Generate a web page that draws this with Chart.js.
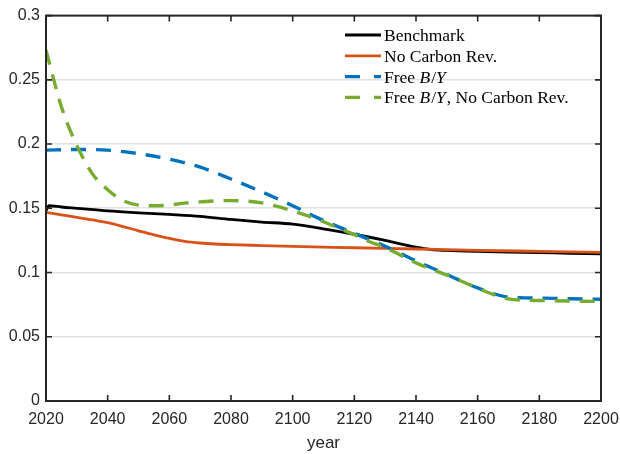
<!DOCTYPE html>
<html>
<head>
<meta charset="utf-8">
<script src="https://cdn.jsdelivr.net/npm/chart.js@4.4.1/dist/chart.umd.min.js"></script>
<style>
  html, body { margin: 0; padding: 0; background: #fff; }
  #wrap { width: 620px; height: 454px; }
</style>
</head>
<body>
<div id="wrap"><canvas id="chart" width="620" height="454"></canvas></div>
<script>
// values
var benchYears = [2020, 2021, 2025, 2030, 2040, 2050, 2060, 2070, 2080, 2090, 2100, 2110, 2120, 2130, 2140, 2145, 2150, 2160, 2170, 2180, 2190, 2200];
var benchVals  = [0.148, 0.152, 0.151, 0.150, 0.148, 0.1465, 0.1452, 0.1437, 0.1413, 0.1393, 0.1377, 0.134, 0.1298, 0.125, 0.1197, 0.1178, 0.1172, 0.1165, 0.116, 0.1155, 0.115, 0.1145];

var noRevYears = [2020, 2025, 2030, 2035, 2040, 2045, 2050, 2055, 2060, 2065, 2070, 2075, 2080, 2090, 2100, 2120, 2140, 2160, 2180, 2200];
var noRevVals  = [0.1468, 0.1449, 0.143, 0.1409, 0.1388, 0.1358, 0.1325, 0.1293, 0.1265, 0.1243, 0.123, 0.1222, 0.1217, 0.121, 0.1203, 0.1193, 0.1183, 0.1173, 0.1165, 0.1157];

var freeYears = [2020, 2030, 2040, 2050, 2060, 2070, 2080, 2090, 2100, 2110, 2120, 2130, 2140, 2150, 2160, 2170, 2175, 2180, 2190, 2200];
var freeVals  = [0.1953, 0.1958, 0.1953, 0.1925, 0.1882, 0.182, 0.1728, 0.1628, 0.152, 0.1405, 0.1305, 0.1205, 0.109, 0.0985, 0.088, 0.0808, 0.0803, 0.0801, 0.0796, 0.0792];

var freeNoRevYears = [2020, 2025, 2030, 2035, 2040, 2045, 2050, 2055, 2060, 2065, 2070, 2075, 2080, 2085, 2090, 2095, 2100, 2105, 2110, 2115, 2120, 2125, 2130, 2135, 2140, 2145, 2150, 2155, 2160, 2165, 2170, 2175, 2180, 2190, 2200];
var freeNoRevVals  = [0.273, 0.229, 0.199, 0.177, 0.1645, 0.156, 0.1525, 0.152, 0.1525, 0.154, 0.155, 0.1558, 0.156, 0.1556, 0.1542, 0.1515, 0.148, 0.144, 0.1395, 0.1345, 0.1295, 0.124, 0.1195, 0.1135, 0.1075, 0.1025, 0.098, 0.093, 0.0878, 0.083, 0.0795, 0.0785, 0.0782, 0.0778, 0.0775];

var xTicks = [2020, 2040, 2060, 2080, 2100, 2120, 2140, 2160, 2180, 2200];
var yTicks = [0, 0.05, 0.1, 0.15, 0.2, 0.25, 0.3];

var names = ['Benchmark', 'No Carbon Rev.', 'Free B/Y', 'Free B/Y, No Carbon Rev.'];
var colors = ['#000000', '#D95319', '#0072BD', '#77AC30'];

var axisColor = '#262626';

function pts(xs, ys) {
  return xs.map(function(x, i) { return {x: x, y: ys[i]}; });
}

// box + inward ticks, like the matlab axes
var boxPlugin = {
  id: 'box',
  afterDatasetsDraw: function(chart) {
    var ctx = chart.ctx, a = chart.chartArea;
    var xs = chart.scales.x, ys = chart.scales.y;
    ctx.save();
    ctx.strokeStyle = axisColor;
    ctx.lineWidth = 1.6;
    ctx.beginPath();
    xTicks.forEach(function(t) {
      var px = xs.getPixelForValue(t);
      ctx.moveTo(px, a.bottom); ctx.lineTo(px, a.bottom - 6);
      ctx.moveTo(px, a.top); ctx.lineTo(px, a.top + 6);
    });
    yTicks.forEach(function(t) {
      var py = ys.getPixelForValue(t);
      ctx.moveTo(a.left, py); ctx.lineTo(a.left + 6, py);
      ctx.moveTo(a.right, py); ctx.lineTo(a.right - 6, py);
    });
    ctx.stroke();
    ctx.lineWidth = 2;
    ctx.strokeRect(a.left, a.top, a.right - a.left, a.bottom - a.top);
    ctx.restore();
  }
};

// legend sits inside the axes with latex-ish text
var legendPlugin = {
  id: 'inLegend',
  afterDraw: function(chart) {
    var ctx = chart.ctx;
    var x0 = 345, x1 = 381, tx = 384;
    var y = 35, step = 20.8;
    var normal = '17.5px "Liberation Serif", serif';
    var ital = 'italic 17.5px "Liberation Serif", serif';
    ctx.save();
    chart.data.datasets.forEach(function(ds, i) {
      var ly = y + i * step;
      ctx.strokeStyle = ds.borderColor;
      ctx.lineWidth = ds.borderWidth;
      ctx.setLineDash(ds.borderDash.length ? [15, 14] : []);
      ctx.beginPath();
      ctx.moveTo(x0, ly); ctx.lineTo(x1, ly);
      ctx.stroke();
      ctx.setLineDash([]);

      ctx.fillStyle = '#000';
      ctx.textBaseline = 'alphabetic';
      ctx.textAlign = 'left';
      var bl = ly + 6;
      var parts;
      if (i < 2) {
        parts = [[ds.label, normal]];
      } else {
        parts = [['Free ', normal], ['B', ital], ['/', normal], ['Y', ital]];
        if (i == 3) parts.push([', No Carbon Rev.', normal]);
      }
      var cx = tx;
      parts.forEach(function(p) {
        ctx.font = p[1];
        ctx.fillText(p[0], cx, bl);
        cx += ctx.measureText(p[0]).width + (p[1] == ital ? 1 : 0);
      });
    });
    ctx.restore();
  }
};

var ctx = document.getElementById('chart').getContext('2d');
var chart = new Chart(ctx, {
  type: 'line',
  data: {
    datasets: [
      { label: names[0], data: pts(benchYears, benchVals), borderColor: colors[0], borderWidth: 2.8, borderDash: [], order: 4 },
      { label: names[1], data: pts(noRevYears, noRevVals), borderColor: colors[1], borderWidth: 2.8, borderDash: [], order: 3 },
      { label: names[2], data: pts(freeYears, freeVals), borderColor: colors[2], borderWidth: 3.4, borderDash: [15, 10], order: 2 },
      { label: names[3], data: pts(freeNoRevYears, freeNoRevVals), borderColor: colors[3], borderWidth: 3.4, borderDash: [15, 10], order: 1 }
    ]
  },
  options: {
    responsive: false,
    animation: false,
    devicePixelRatio: 1,
    layout: { padding: { left: 0, right: 19, top: 14, bottom: 0 } },
    elements: {
      point: { radius: 0 },
      line: { cubicInterpolationMode: 'monotone', fill: false }
    },
    plugins: {
      legend: { display: false },
      tooltip: { enabled: false }
    },
    scales: {
      x: {
        type: 'linear',
        min: 2020, max: 2200,
        afterBuildTicks: function(s) { s.ticks = xTicks.map(function(v) { return {value: v}; }); },
        afterFit: function(s) { s.height = 53; s.paddingLeft = 0; s.paddingRight = 0; },
        grid: { display: false, drawTicks: false },
        border: { display: false },
        ticks: {
          color: axisColor, padding: 9,
          font: { family: '"Liberation Sans", Arial, sans-serif', size: 16 },
          callback: function(v) { return String(v); }
        },
        title: {
          display: true, text: 'year', color: axisColor, padding: { top: 2, bottom: 0 },
          font: { family: '"Liberation Sans", Arial, sans-serif', size: 17 }
        }
      },
      y: {
        min: 0, max: 0.3,
        afterBuildTicks: function(s) { s.ticks = yTicks.map(function(v) { return {value: v}; }); },
        afterFit: function(s) { s.width = 46; },
        grid: { color: '#e2e2e2', lineWidth: 1.6, drawTicks: false },
        border: { display: false },
        ticks: {
          color: axisColor, padding: 6,
          font: { family: '"Liberation Sans", Arial, sans-serif', size: 16 },
          callback: function(v) { return String(+v.toFixed(2)); }
        }
      }
    }
  },
  plugins: [boxPlugin, legendPlugin]
});
</script>
</body>
</html>
